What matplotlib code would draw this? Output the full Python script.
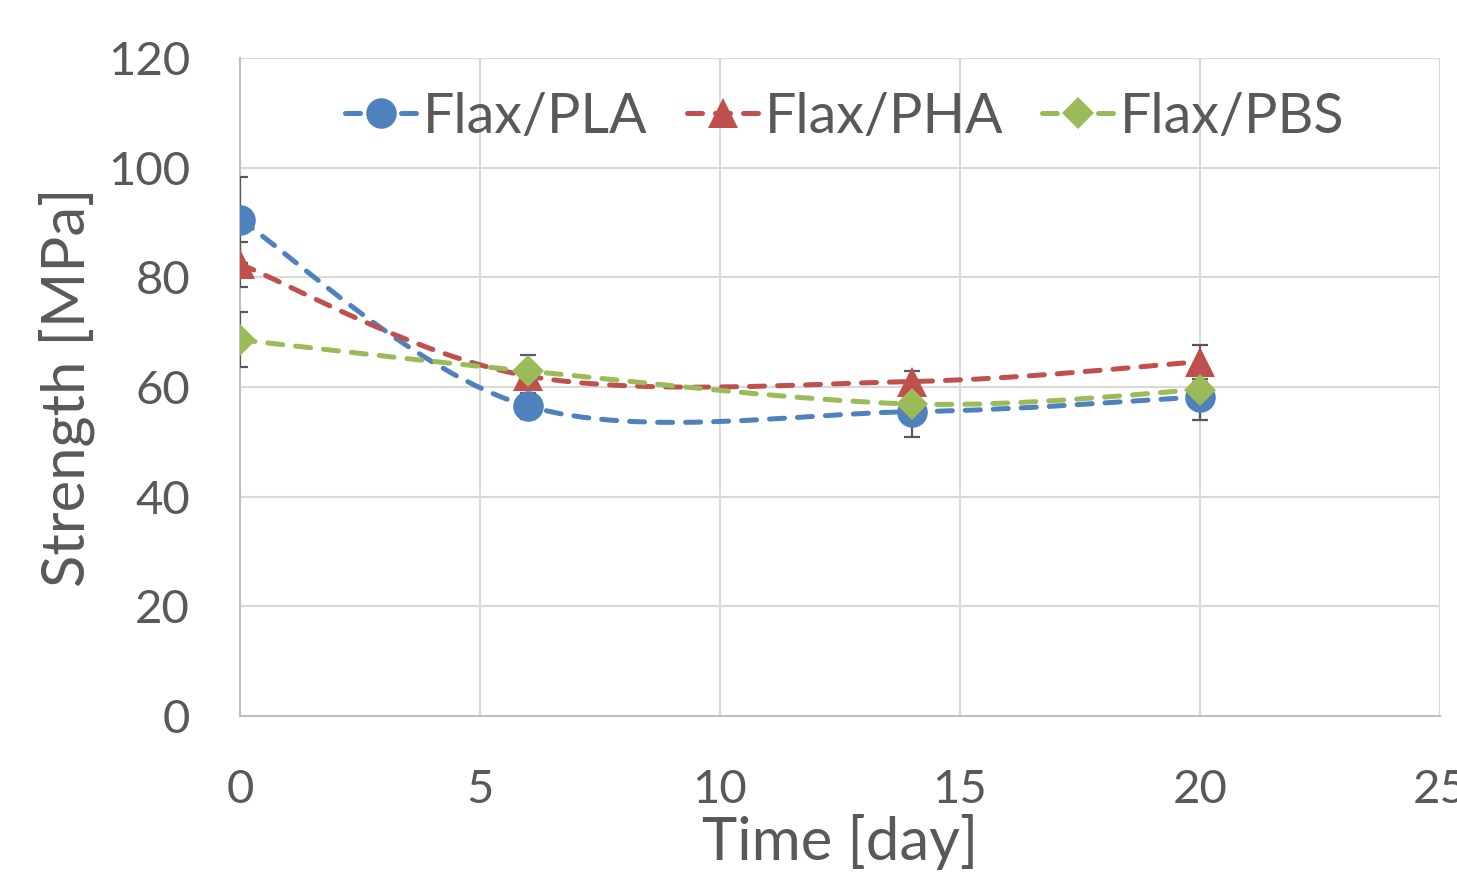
import numpy as np
import matplotlib
matplotlib.use("Agg")
import matplotlib.pyplot as plt
from matplotlib.path import Path
from matplotlib.patches import PathPatch
from matplotlib.lines import Line2D

plt.rcParams['font.family'] = ['Lato', 'DejaVu Sans']

# === data ===
days = [0, 6, 14, 20]
pla = [90.5, 56.5, 55.5, 58.2]
pla_err = [7.8, 2.4, 4.6, 4.3]
pha = [82.4, 62.0, 61.0, 64.6]
pha_err = [4.1, 2.0, 1.9, 3.1]
pbs = [68.6, 62.9, 56.9, 59.5]
pbs_err = [5.0, 3.0, 1.5, 1.5]
labels = ['Flax/PLA', 'Flax/PHA', 'Flax/PBS']
colors = ['#4F81BD', '#C0504D', '#9BBB59']
markers = ['o', '^', 'D']
msizes = [22, 21, 16]

GRID = '#D9D9D9'
TXT = '#595959'


def smooth_path(x, y):
    # excel-like smoothed line: bezier segments, catmull-rom control points
    pts = np.column_stack([x, y]).astype(float)
    n = len(pts)
    verts = [pts[0]]
    codes = [Path.MOVETO]
    for i in range(n - 1):
        p0 = pts[i - 1] if i > 0 else pts[i]
        p1 = pts[i]
        p2 = pts[i + 1]
        p3 = pts[i + 2] if i + 2 < n else pts[i + 1]
        c1 = p1 + (p2 - p0) / 6.0
        c2 = p2 - (p3 - p1) / 6.0
        verts += [c1, c2, p2]
        codes += [Path.CURVE4] * 3
    return Path(verts, codes)


fig = plt.figure(figsize=(14.57, 8.73), dpi=100)
ax = fig.add_axes([240 / 1457, 157 / 873, 1200 / 1457, 658 / 873])

dash = (0, (3.0, 2.6))
lw = 3.6
for vals, errs, c, m, ms in zip([pla, pha, pbs], [pla_err, pha_err, pbs_err], colors, markers, msizes):
    patch = PathPatch(smooth_path(days, vals), facecolor='none', edgecolor=c,
                      lw=lw, linestyle=dash, capstyle='round', zorder=3)
    ax.add_patch(patch)
    ax.errorbar(days, vals, yerr=errs, fmt='none', ecolor=TXT, elinewidth=1.6,
                capsize=6, capthick=1.6, zorder=4)
    ax.plot(days, vals, linestyle='none', marker=m, markersize=ms,
            color=c, markeredgewidth=0, zorder=5)

ax.set_xlim(0, 25)
ax.set_ylim(0, 120)
ax.set_xticks(range(0, 26, 5))
ax.set_yticks(range(0, 121, 20))
ax.grid(True, color=GRID, lw=1.5, zorder=0)
for s in ['top', 'right']:
    ax.spines[s].set_visible(False)
ax.spines['left'].set_color('#BFBFBF')
ax.spines['bottom'].set_color('#BFBFBF')
ax.spines['left'].set_linewidth(1.5)
ax.spines['bottom'].set_linewidth(1.5)
ax.tick_params(length=0, labelsize=34, labelcolor=TXT)
ax.tick_params(axis='x', pad=38)
ax.tick_params(axis='y', pad=36)
for t in ax.get_xticklabels():
    t.set_clip_on(False)

ax.set_xlabel('Time [day]', fontsize=43, color=TXT, labelpad=2)
ax.set_ylabel('Strength [MPa]', fontsize=43, color=TXT, labelpad=9)

handles = [Line2D([], [], color=c, lw=lw, linestyle=dash, dash_capstyle='round',
                  marker=m, markersize=ms, markeredgewidth=0)
           for c, m, ms in zip(colors, markers, msizes)]
ax.legend(handles, labels, loc='center', bbox_to_anchor=(0.504, 0.91),
          ncol=3, frameon=False, fontsize=40, labelcolor=TXT,
          handlelength=1.3, handletextpad=0.1, columnspacing=0.7)

fig.savefig('out.png', dpi=100)
